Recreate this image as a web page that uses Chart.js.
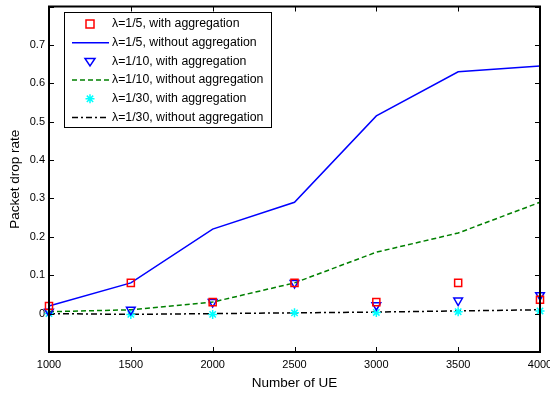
<!DOCTYPE html>
<html>
<head>
<meta charset="utf-8">
<script src="https://cdn.jsdelivr.net/npm/chart.js@4"></script>
<style>
  html, body { margin: 0; padding: 0; background: #fff; }
  #wrap { width: 550px; height: 394px; }
</style>
</head>
<body>
<div id="wrap"><canvas id="grafico"></canvas></div>
<script>
const numUE = [1000, 1500, 2000, 2500, 3000, 3500, 4000];

// lambda = 1/5
const l5Agg = [0.02, 0.08, 0.03, 0.08, 0.03, 0.08, 0.036];
const l5NoAgg = [0.02, 0.08, 0.22, 0.29, 0.515, 0.63, 0.645];
// lambda = 1/10
const l10Agg = [0.005, 0.01, 0.03, 0.08, 0.022, 0.034, 0.048];
const l10NoAgg = [0.005, 0.01, 0.03, 0.08, 0.16, 0.21, 0.29];
// lambda = 1/30
const l30Agg = [0, -0.002, -0.002, 0.002, 0.003, 0.005, 0.007];
const l30NoAgg = [0, -0.002, 0, 0.002, 0.004, 0.007, 0.01];

const etiquetasY = [0, 0.1, 0.2, 0.3, 0.4, 0.5, 0.6, 0.7];

const fuente = "'Liberation Sans', Arial, sans-serif";

function puntos(vals) {
    return vals.map((v, i) => ({ x: numUE[i], y: v }));
}

// caja con marcas hacia dentro, como en MATLAB
const cajaEjes = {
    id: 'cajaEjes',
    afterDatasetsDraw(chart) {
        const { ctx, chartArea: a, scales } = chart;
        ctx.save();
        ctx.strokeStyle = '#000';
        ctx.lineWidth = 1;
        ctx.beginPath();
        scales.x.ticks.forEach(t => {
            const px = Math.round(scales.x.getPixelForValue(t.value)) + 0.5;
            ctx.moveTo(px, a.bottom); ctx.lineTo(px, a.bottom - 5);
            ctx.moveTo(px, a.top); ctx.lineTo(px, a.top + 5);
        });
        scales.y.ticks.forEach(t => {
            const py = Math.round(scales.y.getPixelForValue(t.value)) + 0.5;
            ctx.moveTo(a.left, py); ctx.lineTo(a.left + 5, py);
            ctx.moveTo(a.right, py); ctx.lineTo(a.right - 5, py);
        });
        ctx.stroke();
        ctx.lineWidth = 2;
        ctx.strokeRect(a.left, a.top, a.right - a.left, a.bottom - a.top);
        ctx.restore();
    }
};

function marcador(ctx, ds, x, y) {
    const r = ds.pointRadius;
    ctx.save();
    ctx.strokeStyle = ds.borderColor;
    ctx.lineWidth = ds.borderWidth;
    ctx.beginPath();
    if (ds.pointStyle === 'rect') {
        ctx.rect(x - r * 0.8, y - r * 0.8, 1.6 * r, 1.6 * r);
    } else if (ds.pointStyle === 'triangle') {
        ctx.moveTo(x - r, y - r * 0.6);
        ctx.lineTo(x + r, y - r * 0.6);
        ctx.lineTo(x, y + r * 0.9);
        ctx.closePath();
    } else {
        for (let k = 0; k < 4; k++) {
            const ang = k * Math.PI / 4;
            ctx.moveTo(x - r * Math.cos(ang), y - r * Math.sin(ang));
            ctx.lineTo(x + r * Math.cos(ang), y + r * Math.sin(ang));
        }
    }
    ctx.stroke();
    ctx.restore();
}

const leyenda = {
    id: 'leyenda',
    afterDraw(chart) {
        const ctx = chart.ctx;
        const bx = 64, by = 12, bw = 207, bh = 115;
        ctx.save();
        ctx.fillStyle = '#fff';
        ctx.fillRect(bx, by, bw, bh);
        ctx.strokeStyle = '#000';
        ctx.lineWidth = 1;
        ctx.strokeRect(bx + 0.5, by + 0.5, bw, bh);
        ctx.font = '12.3px ' + fuente;
        ctx.textBaseline = 'middle';
        chart.data.datasets.forEach((ds, i) => {
            const y = by + 12 + i * 18.7;
            if (ds.showLine === false) {
                marcador(ctx, ds, 90, y);
            } else {
                ctx.save();
                ctx.strokeStyle = ds.borderColor;
                ctx.lineWidth = ds.borderWidth;
                ctx.setLineDash(ds.borderDash || []);
                ctx.beginPath();
                ctx.moveTo(72, y); ctx.lineTo(109, y);
                ctx.stroke();
                ctx.restore();
            }
            ctx.fillStyle = '#000';
            ctx.fillText(ds.label, 112, y);
        });
        ctx.restore();
    }
};

new Chart(document.getElementById('grafico'), {
    type: 'line',
    data: {
        datasets: [
            { label: 'λ=1/5, with aggregation', data: puntos(l5Agg), showLine: false, clip: false,
              borderColor: '#ff0000', backgroundColor: 'rgba(0,0,0,0)', borderWidth: 1.5,
              pointStyle: 'rect', pointRadius: 5 },
            { label: 'λ=1/5, without aggregation', data: puntos(l5NoAgg), clip: false,
              borderColor: '#0000ff', borderWidth: 1.5, pointRadius: 0 },
            { label: 'λ=1/10, with aggregation', data: puntos(l10Agg), showLine: false, clip: false,
              borderColor: '#0000ff', backgroundColor: 'rgba(0,0,0,0)', borderWidth: 1.5,
              pointStyle: 'triangle', rotation: 180, pointRadius: 5 },
            { label: 'λ=1/10, without aggregation', data: puntos(l10NoAgg), clip: false,
              borderColor: '#008000', borderWidth: 1.5, borderDash: [5, 3], pointRadius: 0 },
            { label: 'λ=1/30, with aggregation', data: puntos(l30Agg), showLine: false, clip: false,
              borderColor: '#00ffff', backgroundColor: 'rgba(0,0,0,0)', borderWidth: 1.5,
              pointStyle: 'star', pointRadius: 4.5 },
            { label: 'λ=1/30, without aggregation', data: puntos(l30NoAgg), clip: false,
              borderColor: '#000000', borderWidth: 1.5, borderDash: [6, 3, 2, 3], pointRadius: 0 }
        ]
    },
    options: {
        responsive: true,
        maintainAspectRatio: false,
        animation: false,
        events: [],
        layout: { padding: { top: 5, right: 10, left: 0, bottom: 0 } },
        plugins: { legend: { display: false }, tooltip: { enabled: false } },
        scales: {
            x: {
                type: 'linear', min: 1000, max: 4000,
                afterBuildTicks: s => { s.ticks = numUE.map(v => ({ value: v })); },
                afterFit: s => { s.height = 42; s.paddingLeft = 0; s.paddingRight = 0; },
                grid: { display: false, drawTicks: false },
                border: { display: false },
                ticks: { color: '#000', padding: 6, maxRotation: 0, font: { family: fuente, size: 11 },
                         callback: v => String(v) },
                title: { display: true, text: 'Number of UE', color: '#000', padding: { top: 0, bottom: 3 },
                         font: { family: fuente, size: 13.5 } }
            },
            y: {
                min: -0.1, max: 0.8,
                afterBuildTicks: s => {
                    s.ticks = [-0.1].concat(etiquetasY, [0.8]).map(v => ({ value: v }));
                },
                afterFit: s => { s.width = 49; s.paddingTop = 0; s.paddingBottom = 0; },
                grid: { display: false, drawTicks: false },
                border: { display: false },
                ticks: { color: '#000', padding: 4, font: { family: fuente, size: 11 },
                         callback: v => {
                             const r = Math.round(v * 10) / 10;
                             return etiquetasY.includes(r) ? String(r) : '';
                         } },
                title: { display: true, text: 'Packet drop rate', color: '#000', padding: { top: 7, bottom: 0 },
                         font: { family: fuente, size: 13.5 } }
            }
        }
    },
    plugins: [cajaEjes, leyenda]
});
</script>
</body>
</html>
